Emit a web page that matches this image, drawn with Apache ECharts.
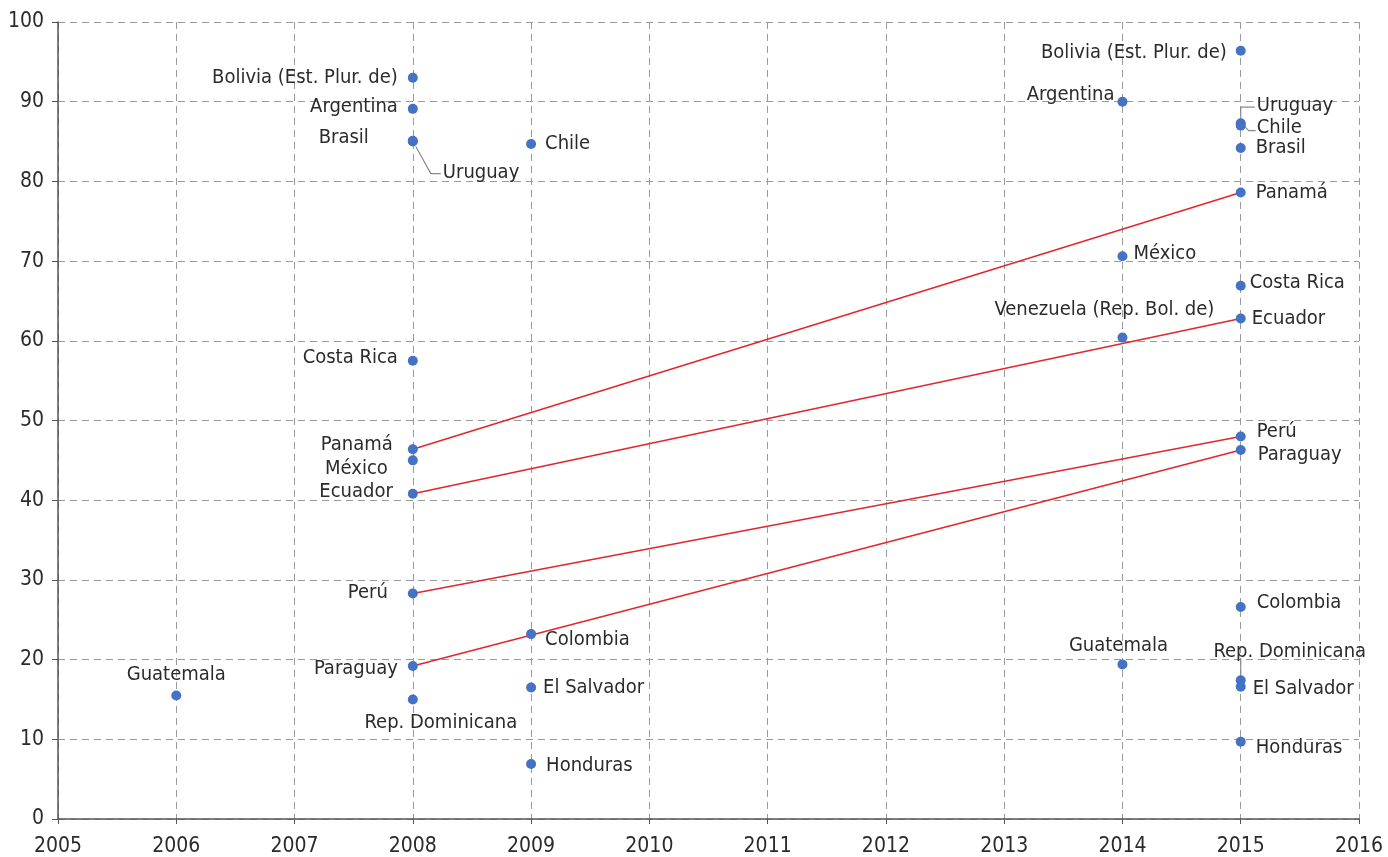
<!DOCTYPE html>
<html>
<head>
<meta charset="utf-8">
<script src="https://cdn.jsdelivr.net/npm/echarts@6/dist/echarts.min.js"></script>
<style>
  html, body { margin: 0; padding: 0; background: #fff; }
  #chart { width: 1388px; height: 857px; }
</style>
</head>
<body>
<div id="chart"></div>
<script>
// puntos por país y año
const pointCountries = [
  "Guatemala",
  "Bolivia (Est. Plur. de)", "Argentina", "Brasil", "Uruguay", "Costa Rica", "Panamá", "México",
  "Ecuador", "Perú", "Paraguay", "Rep. Dominicana",
  "Chile", "Colombia", "El Salvador", "Honduras",
  "Argentina", "México", "Venezuela (Rep. Bol. de)", "Guatemala",
  "Bolivia (Est. Plur. de)", "Uruguay", "Chile", "Brasil", "Panamá", "Costa Rica", "Ecuador",
  "Perú", "Paraguay", "Colombia", "Rep. Dominicana", "El Salvador", "Honduras",
];
const pointYears = [
  2006,
  2008, 2008, 2008, 2008, 2008, 2008, 2008, 2008, 2008, 2008, 2008,
  2009, 2009, 2009, 2009,
  2014, 2014, 2014, 2014,
  2015, 2015, 2015, 2015, 2015, 2015, 2015, 2015, 2015, 2015, 2015, 2015, 2015,
];
const pointValues = [
  15.5,
  93.0, 89.1, 85.1, 85.0, 57.5, 46.4, 45.0, 40.8, 28.3, 19.2, 15.0,
  84.7, 23.2, 16.5, 6.9,
  90.0, 70.6, 60.4, 19.4,
  96.4, 87.3, 87.0, 84.2, 78.6, 66.9, 62.8, 48.0, 46.3, 26.6, 17.4, 16.6, 9.7,
];

// países unidos con línea roja entre ambos años
const trendCountries = ["Panamá", "Ecuador", "Perú", "Paraguay"];
const trendYears = [2008, 2015];

const FONT = "'DejaVu Sans Condensed', 'Liberation Sans Narrow', 'Open Sans', sans-serif";
const TEXT_COLOR = "#2b2b2b";

// ubicación de etiquetas (px respecto al punto)
const labelPlace = {
  "Guatemala|2006": ["top", 6, 0, 0],
  "Bolivia (Est. Plur. de)|2008": ["left", 10, 0, 0],
  "Argentina|2008": ["left", 10, 0, -2],
  "Brasil|2008": ["left", 39, 0, -3],
  "Uruguay|2008": ["right", 25, 0, 31],
  "Costa Rica|2008": ["left", 10, 0, -3],
  "Panamá|2008": ["left", 15, 0, -4],
  "México|2008": ["left", 20, 0, 8],
  "Ecuador|2008": ["left", 15, 0, -2],
  "Perú|2008": ["left", 20, 0, -1],
  "Paraguay|2008": ["left", 10, 0, 3],
  "Rep. Dominicana|2008": ["bottom", 8, 28, 0],
  "Chile|2009": ["right", 9, 0, 0],
  "Colombia|2009": ["right", 9, 0, 6],
  "El Salvador|2009": ["right", 7, 0, 0],
  "Honduras|2009": ["right", 10, 0, 2],
  "Argentina|2014": ["left", 3, 0, -7],
  "México|2014": ["right", 6, 0, -3],
  "Venezuela (Rep. Bol. de)|2014": ["top", 13, -18, 0],
  "Guatemala|2014": ["top", 4, -4, 0],
  "Bolivia (Est. Plur. de)|2015": ["left", 9, 0, 2],
  "Uruguay|2015": ["right", 11, 0, -17],
  "Chile|2015": ["right", 11, 0, 2],
  "Brasil|2015": ["right", 10, 0, 0],
  "Panamá|2015": ["right", 10, 0, 0],
  "Costa Rica|2015": ["right", 4, 0, -3],
  "Ecuador|2015": ["right", 6, 0, 0],
  "Perú|2015": ["right", 11, 0, -5],
  "Paraguay|2015": ["right", 12, 0, 5],
  "Colombia|2015": ["right", 11, 0, -4],
  "Rep. Dominicana|2015": ["top", 14, 49, 0],
  "El Salvador|2015": ["right", 7, 0, 2],
  "Honduras|2015": ["right", 10, 0, 6],
};

// líneas guía de etiquetas (px respecto al punto)
const leaders = {
  "Uruguay|2008": [[3, 5], [18, 32], [28, 32]],
  "Uruguay|2015": [[0, -5], [0, -16], [14, -16]],
  "Chile|2015": [[4, 1], [8, 5], [15, 5]],
  "Rep. Dominicana|2015": [[0, -4], [0, -22]],
};

const chartDom = document.getElementById("chart");
const chart = echarts.init(chartDom);

const valueOf = (name, year) => {
  for (let i = 0; i < pointCountries.length; i++) {
    if (pointCountries[i] === name && pointYears[i] === year) return pointValues[i];
  }
  return null;
};

const scatterData = pointCountries.map((name, i) => {
  const key = name + "|" + pointYears[i];
  const p = labelPlace[key] || ["right", 8, 0, 0];
  return {
    name: name,
    value: [pointYears[i], pointValues[i]],
    label: {
      position: p[0],
      distance: p[1],
      offset: [p[2], p[3]],
    },
  };
});

const leaderData = [];
pointCountries.forEach((name, i) => {
  const key = name + "|" + pointYears[i];
  if (leaders[key]) leaderData.push({ value: [pointYears[i], pointValues[i]], key: key });
});

const trendSeries = trendCountries.map((name) => ({
  name: name,
  type: "line",
  data: trendYears.map((y) => [y, valueOf(name, y)]),
  showSymbol: false,
  silent: true,
  lineStyle: { color: "#e2262e", width: 1.5 },
  z: 2,
}));

const option = {
  animation: false,
  backgroundColor: "#fff",
  textStyle: { fontFamily: FONT },
  grid: { left: 58, right: 29, top: 22, bottom: 38 },
  xAxis: {
    type: "value",
    min: 2005,
    max: 2016,
    interval: 1,
    axisLine: { lineStyle: { color: "#555", width: 1.5 } },
    axisTick: { show: true, length: 5, lineStyle: { color: "#555" } },
    axisLabel: {
      margin: 17,
      fontSize: 21,
      color: TEXT_COLOR,
      fontFamily: FONT,
      formatter: (v) => String(v),
    },
    splitLine: {
      show: true,
      lineStyle: { color: "#9a9a9a", type: [7, 5], width: 1 },
    },
  },
  yAxis: {
    type: "value",
    min: 0,
    max: 100,
    interval: 10,
    axisLine: { show: true, lineStyle: { color: "#555", width: 1.5 } },
    axisTick: { show: true, length: 6, lineStyle: { color: "#555" } },
    axisLabel: {
      margin: 14,
      fontSize: 21,
      color: TEXT_COLOR,
      fontFamily: FONT,
    },
    splitLine: {
      show: true,
      lineStyle: { color: "#9a9a9a", type: [7, 5], width: 1 },
    },
  },
  series: [
    ...trendSeries,
    {
      type: "custom",
      silent: true,
      z: 2,
      data: leaderData,
      renderItem: (params, api) => {
        const item = leaderData[params.dataIndex];
        const c = api.coord([api.value(0), api.value(1)]);
        const pts = leaders[item.key].map((o) => [c[0] + o[0], c[1] + o[1]]);
        return {
          type: "polyline",
          shape: { points: pts },
          style: { stroke: "#8a8a8a", fill: null, lineWidth: 1.2 },
        };
      },
    },
    {
      type: "scatter",
      data: scatterData,
      symbolSize: 10,
      itemStyle: { color: "#4472c4", opacity: 1 },
      z: 3,
      label: {
        show: true,
        formatter: (p) => p.name,
        fontSize: 20,
        color: TEXT_COLOR,
        fontFamily: FONT,
      },
    },
  ],
};

chart.setOption(option);
</script>
</body>
</html>
